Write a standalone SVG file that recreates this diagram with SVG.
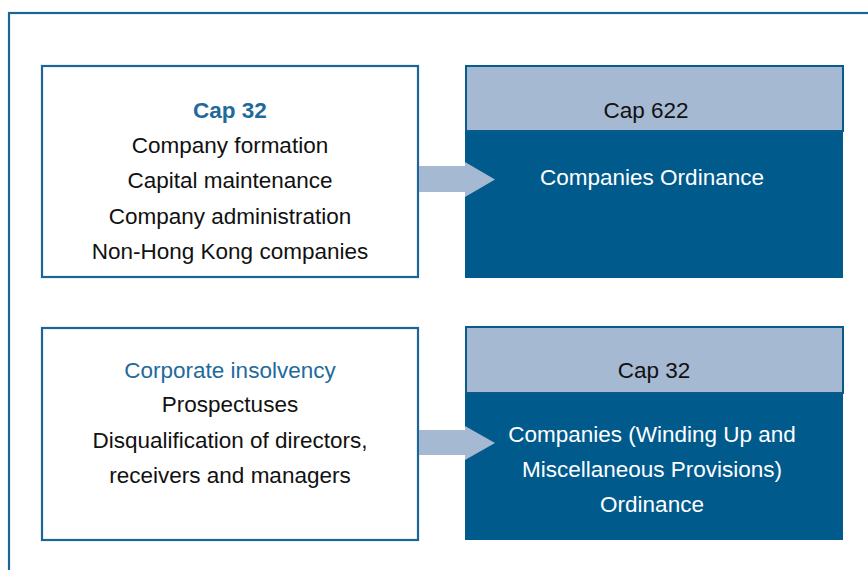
<svg xmlns="http://www.w3.org/2000/svg" width="868" height="570" viewBox="0 0 868 570">
  <style>
    .frame { fill: none; stroke: #1d6598; stroke-width: 2.2; }
    .src { fill: #ffffff; stroke: #1d6598; stroke-width: 2.2; }
    .hdr { fill: #a6b9d3; stroke: #0a5a8c; stroke-width: 2; }
    .body { fill: #005a8c; }
    .arrow { fill: #a6b9d3; }
    text { font-family: "Liberation Sans", Arial, sans-serif; font-size: 22.5px; text-anchor: middle; }
    .dark { fill: #111111; }
    .blue { fill: #1f6a9c; }
    .bold { font-weight: bold; }
    .white { fill: #ffffff; }
  </style>

  <!-- outer frame, running off the right and bottom edges -->
  <rect class="frame" x="9" y="13" width="900" height="600"/>

  <g id="old-cap32-upper">
    <rect class="src" x="42" y="66" width="376" height="211"/>
    <text class="blue bold" x="230" y="118">Cap 32</text>
    <text class="dark" x="230" y="153">Company formation</text>
    <text class="dark" x="230" y="188">Capital maintenance</text>
    <text class="dark" x="230" y="224">Company administration</text>
    <text class="dark" x="230" y="259">Non-Hong Kong companies</text>
  </g>

  <g id="cap622">
    <rect class="body" x="465" y="66" width="378" height="212"/>
    <rect class="hdr" x="466" y="66" width="377" height="65"/>
    <text class="dark" x="646" y="118">Cap 622</text>
    <text class="white" x="652" y="185">Companies Ordinance</text>
  </g>

  <g id="old-cap32-lower">
    <rect class="src" x="42" y="328" width="376" height="212"/>
    <text class="blue" x="230" y="378">Corporate insolvency</text>
    <text class="dark" x="230" y="412">Prospectuses</text>
    <text class="dark" x="230" y="448">Disqualification of directors,</text>
    <text class="dark" x="230" y="483">receivers and managers</text>
  </g>

  <g id="cap32-wump">
    <rect class="body" x="465" y="327" width="378" height="213"/>
    <rect class="hdr" x="466" y="327" width="377" height="66"/>
    <text class="dark" x="654" y="378">Cap 32</text>
    <text class="white" x="652" y="442">Companies (Winding Up and</text>
    <text class="white" x="652" y="477">Miscellaneous Provisions)</text>
    <text class="white" x="652" y="512">Ordinance</text>
  </g>

  <!-- block arrows drawn last so the heads sit over the dark boxes -->
  <g id="connectors">
    <polygon class="arrow" points="419,166 465,166 465,162 495,179.5 465,197 465,192 419,192"/>
    <polygon class="arrow" points="419,430 465,430 465,426 495,443 465,460 465,455 419,455"/>
  </g>
</svg>
